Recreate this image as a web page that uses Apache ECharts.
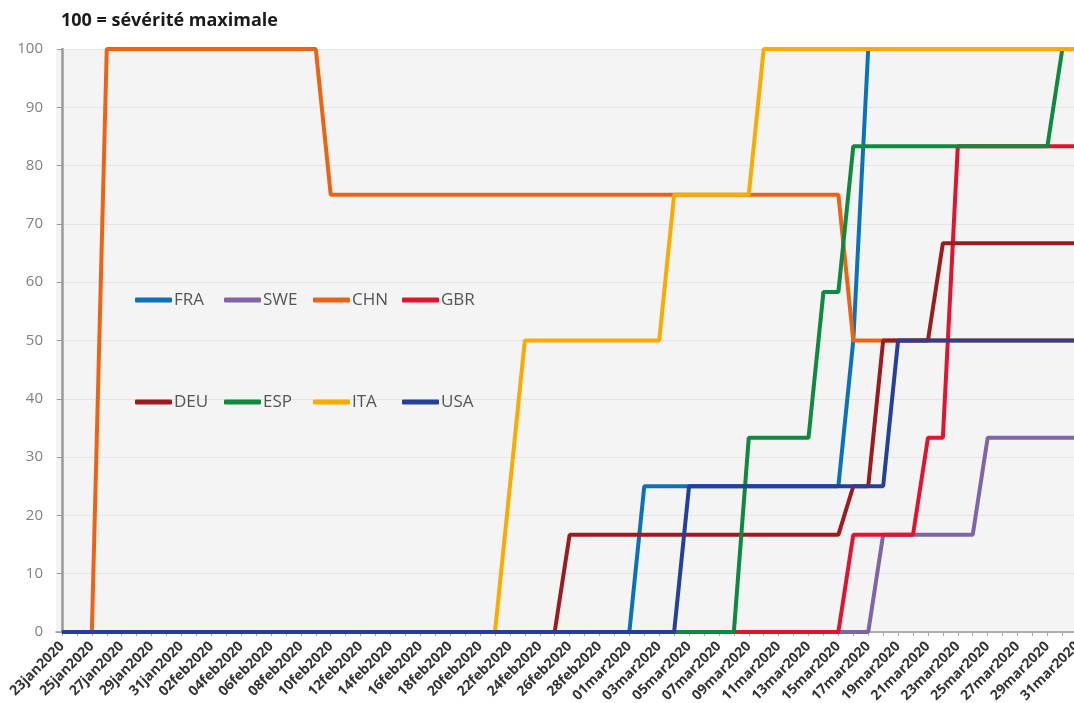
<!DOCTYPE html>
<html><head><meta charset="utf-8">
<script src="https://cdn.jsdelivr.net/npm/echarts@6/dist/echarts.min.js"></script>
<style>html,body{margin:0;padding:0;background:#fff}#c{width:1074px;height:703px}</style>
</head><body><div id="c"></div>
<script>
// Daily categories (x axis)
const dates = [
 '23jan2020','24jan2020','25jan2020','26jan2020','27jan2020','28jan2020','29jan2020','30jan2020','31jan2020',
 '01feb2020','02feb2020','03feb2020','04feb2020','05feb2020','06feb2020','07feb2020','08feb2020','09feb2020','10feb2020',
 '11feb2020','12feb2020','13feb2020','14feb2020','15feb2020','16feb2020','17feb2020','18feb2020','19feb2020','20feb2020',
 '21feb2020','22feb2020','23feb2020','24feb2020','25feb2020','26feb2020','27feb2020','28feb2020','29feb2020',
 '01mar2020','02mar2020','03mar2020','04mar2020','05mar2020','06mar2020','07mar2020','08mar2020','09mar2020','10mar2020',
 '11mar2020','12mar2020','13mar2020','14mar2020','15mar2020','16mar2020','17mar2020','18mar2020','19mar2020','20mar2020',
 '21mar2020','22mar2020','23mar2020','24mar2020','25mar2020','26mar2020','27mar2020','28mar2020','29mar2020','30mar2020','31mar2020'
];
const yTicks = [0,10,20,30,40,50,60,70,80,90,100];
const titleText = '100 = sévérité maximale';

// Series values, one per day
const FRA = [
 0,0,0,0,0,0,0,0,0,0,
 0,0,0,0,0,0,0,0,0,0,
 0,0,0,0,0,0,0,0,0,0,
 0,0,0,0,0,0,0,0,0,25,
 25,25,25,25,25,25,25,25,25,25,
 25,25,25,50,100,100,100,100,100,100,
 100,100,100,100,100,100,100,100,100
];
const SWE = [
 0,0,0,0,0,0,0,0,0,0,
 0,0,0,0,0,0,0,0,0,0,
 0,0,0,0,0,0,0,0,0,0,
 0,0,0,0,0,0,0,0,0,0,
 0,0,0,0,0,0,0,0,0,0,
 0,0,0,0,0,16.67,16.67,16.67,16.67,16.67,
 16.67,16.67,33.33,33.33,33.33,33.33,33.33,33.33,33.33
];
const CHN = [
 0,0,0,100,100,100,100,100,100,100,
 100,100,100,100,100,100,100,100,75,75,
 75,75,75,75,75,75,75,75,75,75,
 75,75,75,75,75,75,75,75,75,75,
 75,75,75,75,75,75,75,75,75,75,
 75,75,75,50,50,50,50,50,50,50,
 50,50,50,50,50,50,50,50,50
];
const GBR = [
 0,0,0,0,0,0,0,0,0,0,
 0,0,0,0,0,0,0,0,0,0,
 0,0,0,0,0,0,0,0,0,0,
 0,0,0,0,0,0,0,0,0,0,
 0,0,0,0,0,0,0,0,0,0,
 0,0,0,16.67,16.67,16.67,16.67,16.67,33.33,33.33,
 83.33,83.33,83.33,83.33,83.33,83.33,83.33,83.33,83.33
];
const DEU = [
 0,0,0,0,0,0,0,0,0,0,
 0,0,0,0,0,0,0,0,0,0,
 0,0,0,0,0,0,0,0,0,0,
 0,0,0,0,16.67,16.67,16.67,16.67,16.67,16.67,
 16.67,16.67,16.67,16.67,16.67,16.67,16.67,16.67,16.67,16.67,
 16.67,16.67,16.67,25,25,50,50,50,50,66.67,
 66.67,66.67,66.67,66.67,66.67,66.67,66.67,66.67,66.67
];
const ESP = [
 0,0,0,0,0,0,0,0,0,0,
 0,0,0,0,0,0,0,0,0,0,
 0,0,0,0,0,0,0,0,0,0,
 0,0,0,0,0,0,0,0,0,0,
 0,0,0,0,0,0,33.33,33.33,33.33,33.33,
 33.33,58.33,58.33,83.33,83.33,83.33,83.33,83.33,83.33,83.33,
 83.33,83.33,83.33,83.33,83.33,83.33,83.33,100,100
];
const ITA = [
 0,0,0,0,0,0,0,0,0,0,
 0,0,0,0,0,0,0,0,0,0,
 0,0,0,0,0,0,0,0,0,0,
 25,50,50,50,50,50,50,50,50,50,
 50,75,75,75,75,75,75,100,100,100,
 100,100,100,100,100,100,100,100,100,100,
 100,100,100,100,100,100,100,100,100
];
const USA = [
 0,0,0,0,0,0,0,0,0,0,
 0,0,0,0,0,0,0,0,0,0,
 0,0,0,0,0,0,0,0,0,0,
 0,0,0,0,0,0,0,0,0,0,
 0,0,25,25,25,25,25,25,25,25,
 25,25,25,25,25,25,50,50,50,50,
 50,50,50,50,50,50,50,50,50
];

const names = ['FRA','SWE','CHN','GBR','DEU','ESP','ITA','USA'];
const values = {FRA, SWE, CHN, GBR, DEU, ESP, ITA, USA};
const colors = {
  FRA:'#0a72ba', SWE:'#8064a8', CHN:'#ec6413', GBR:'#e2132f',
  DEU:'#9a1c1f', ESP:'#0d8a3f', ITA:'#f9ab00', USA:'#24409a'
};
const legendLeft = [135, 224, 313, 402, 135, 224, 313, 402];
const legendTop  = [290, 290, 290, 290, 392, 392, 392, 392];

const dayIdx = dates.map((d, i) => i);
const labelIdx = dayIdx.filter(i => i % 2 === 0);

const chart = echarts.init(document.getElementById('c'), null, {renderer: 'canvas'});
const option = {
  animation: false,
  backgroundColor: '#ffffff',
  textStyle: {fontFamily: 'Open Sans'},
  title: {
    text: titleText, left: 61, top: 12, padding: 0,
    textStyle: {fontFamily: 'Open Sans', fontWeight: 'bold', fontSize: 18, color: '#1a1a1a'}
  },
  grid: {
    left: 56, right: -4, top: 49, bottom: 71,
    outerBoundsMode: 'none', containLabel: false,
    show: true, backgroundColor: '#f4f4f4', borderWidth: 0
  },
  legend: names.map((n, k) => ({
    data: [n], left: legendLeft[k], top: legendTop[k], padding: 0,
    icon: 'roundRect', itemWidth: 37, itemHeight: 5, itemGap: 0,
    textStyle: {fontFamily: 'Open Sans', fontSize: 17, color: '#555555', lineHeight: 20, padding: [0,0,0,-3]}
  })),
  xAxis: {
    type: 'value', min: -0.4, max: 68.05,
    axisLine: {show: true, lineStyle: {color: '#9a9a9a', width: 1.5}},
    axisTick: {show: true, length: 4, customValues: dayIdx, lineStyle: {color: '#aaaaaa'}},
    axisLabel: {
      customValues: labelIdx, rotate: 45, margin: 12,
      fontFamily: 'Open Sans', fontWeight: 'bold', fontSize: 14, color: '#333333',
      formatter: v => dates[Math.round(v)]
    },
    splitLine: {show: false}
  },
  yAxis: {
    type: 'value', min: 0, max: 100, interval: 10,
    axisLine: {show: true, lineStyle: {color: '#9a9a9a', width: 2.5}},
    axisTick: {show: true, length: 5, lineStyle: {color: '#9a9a9a'}},
    axisLabel: {margin: 13, fontFamily: 'Open Sans', fontSize: 15, color: '#808080',
      formatter: v => yTicks.includes(v) ? String(v) : ''},
    splitLine: {show: true, lineStyle: {color: '#e4e4e4', width: 1}}
  },
  series: names.map(n => ({
    name: n, type: 'line', showSymbol: false, symbol: 'none', clip: false,
    data: values[n].map((v, i) => [i, v]),
    lineStyle: {width: 4, color: colors[n]},
    itemStyle: {color: colors[n]},
    emphasis: {disabled: true}
  }))
};
chart.setOption(option);
</script>
</body></html>
